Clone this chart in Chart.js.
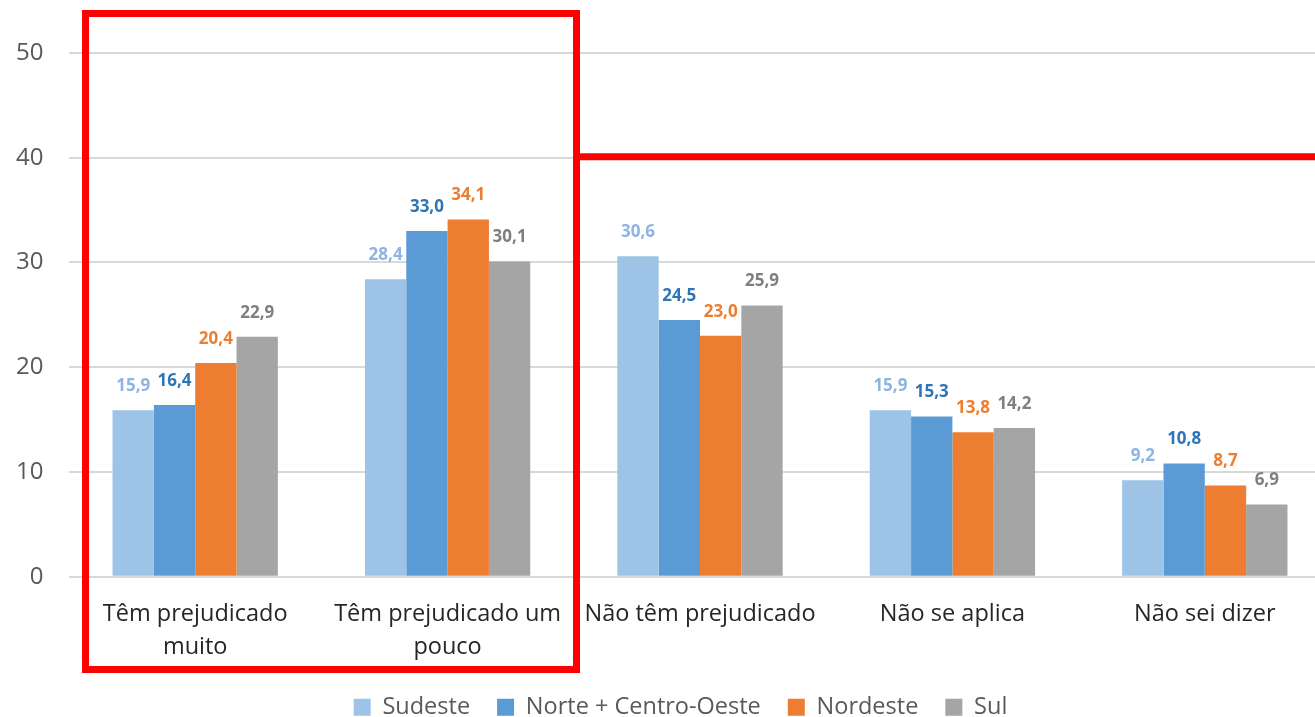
<!DOCTYPE html>
<html>
<head>
<meta charset="utf-8">
<script src="https://cdn.jsdelivr.net/npm/chart.js@4"></script>
<style>
  html,body{margin:0;padding:0;background:#fff;overflow:hidden;}
  #wrap{width:1340px;height:717px;position:relative;}
</style>
</head>
<body>
<div id="wrap"><canvas id="c"></canvas></div>
<script>
// categories and series
const CATS = [['Têm prejudicado','muito'], ['Têm prejudicado um','pouco'], 'Não têm prejudicado', 'Não se aplica', 'Não sei dizer'];
const SUDESTE  = [15.9, 28.4, 30.6, 15.9, 9.2];
const NORTE_CO = [16.4, 33.0, 24.5, 15.3, 10.8];
const NORDESTE = [20.4, 34.1, 23.0, 13.8, 8.7];
const SUL      = [22.9, 30.1, 25.9, 14.2, 6.9];
const SERIES = ['Sudeste','Norte + Centro-Oeste','Nordeste','Sul'];
const Y_TICKS = [0,10,20,30,40,50];

const BAR_COLS = ['#9dc3e6','#5b9bd5','#ed7d31','#a5a5a5'];
const LBL_COLS = ['#8eb4e3','#2e75b6','#ed7d31','#7f7f7f'];
const FONT = '"Open Sans", "DejaVu Sans", sans-serif';

const fmt = v => v.toFixed(1).replace('.',',');

// value labels above each bar
const valLabels = {
  id:'valLabels',
  afterDatasetsDraw(chart){
    const ctx = chart.ctx;
    ctx.save();
    ctx.font = 'bold 17px '+FONT;
    ctx.textAlign = 'center';
    ctx.textBaseline = 'middle';
    chart.data.datasets.forEach((ds,i)=>{
      const meta = chart.getDatasetMeta(i);
      ctx.fillStyle = LBL_COLS[i];
      meta.data.forEach((bar,j)=>{
        ctx.fillText(fmt(ds.data[j]), bar.x, bar.y-24);
      });
    });
    ctx.restore();
  }
};

// red highlight box drawn over the picture
const redBox = {
  id:'redBox',
  afterDraw(chart){
    const ctx = chart.ctx;
    const y40 = chart.scales.y.getPixelForValue(40);
    ctx.save();
    ctx.strokeStyle = '#ff0000';
    ctx.lineWidth = 7;
    ctx.strokeRect(85.5, 13.5, 491, 656);
    ctx.beginPath();
    ctx.moveTo(576, y40-1);
    ctx.lineTo(chart.width, y40-1);
    ctx.stroke();
    ctx.restore();
  }
};

const datasets = [SUDESTE, NORTE_CO, NORDESTE, SUL].map((d,i)=>({
  label: SERIES[i],
  data: d,
  backgroundColor: BAR_COLS[i],
  borderWidth: 0,
  categoryPercentage: 0.655,
  barPercentage: 1
}));

new Chart(document.getElementById('c'), {
  type:'bar',
  data:{labels:CATS, datasets},
  options:{
    responsive:true, maintainAspectRatio:false, animation:false,
    layout:{padding:{top:53,left:30,right:9,bottom:-12}},
    plugins:{
      legend:{position:'bottom',
        labels:{color:'#595959',font:{family:FONT,size:23.5},boxWidth:17,boxHeight:17,padding:27}},
      tooltip:{enabled:false}
    },
    scales:{
      x:{
        afterFit(s){ s.height -= 8; },
        grid:{display:false},
        border:{display:false},
        ticks:{color:'#262626',font:{family:FONT,size:23.5,lineHeight:1.4},padding:13,maxRotation:0,autoSkip:false}
      },
      y:{
        min:0,max:50,
        afterFit(s){ s.width = 39; },
        afterBuildTicks(s){ s.ticks = Y_TICKS.map(v=>({value:v})); },
        grid:{color:'#d9d9d9',lineWidth:2,drawTicks:false},
        border:{display:false},
        ticks:{color:'#595959',font:{family:FONT,size:24},mirror:true,crossAlign:'far',padding:-53}
      }
    }
  },
  plugins:[valLabels, redBox]
});
</script>
</body>
</html>
